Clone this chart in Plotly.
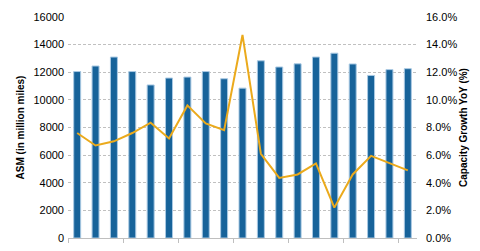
import plotly.graph_objects as go

asm = [12050, 12450, 13100, 12050, 11080, 11580, 11650, 12050, 11530, 10850,
       12830, 12380, 12610, 13100, 13380, 12600, 11770, 12190, 12260]
growth = [7.6, 6.7, 7.0, 7.6, 8.35, 7.2, 9.6, 8.3, 7.8, 14.7,
          6.1, 4.35, 4.6, 5.4, 2.2, 4.6, 5.95, 5.4, 4.9]
growth_frac = [g / 100 for g in growth]
x = list(range(len(asm)))
boundaries = [i - 0.5 for i in range(0, len(asm) + 1, 3)]

fig = go.Figure()
fig.add_trace(go.Bar(x=x, y=asm, marker=dict(color="#17639a", line=dict(color="#a9c9e3", width=1)),
                     width=0.38, yaxis="y"))
fig.add_trace(go.Scatter(x=x, y=growth_frac, mode="lines", line=dict(color="#ebaa1c", width=2),
                         yaxis="y2"))

font = dict(family="Liberation Sans, Arial, sans-serif", size=11, color="#000000")
fig.update_layout(
    width=480, height=251, margin=dict(l=68, r=63, t=17, b=7),
    paper_bgcolor="white", plot_bgcolor="white", showlegend=False, font=font,
    xaxis=dict(range=[-0.5, len(asm) - 0.5], tickmode="array", tickvals=boundaries,
               showticklabels=False, ticks="outside", ticklen=4, tickcolor="#bfbfbf",
               showline=True, linecolor="#bfbfbf", linewidth=1, showgrid=False, zeroline=False),
    yaxis=dict(range=[0, 16000], dtick=2000, showgrid=True, gridcolor="#c0c0c0", griddash="3px,2px",
               zeroline=False, ticks="", tickformat="d", ticklabelstandoff=3,
               title=dict(text="<b>ASM (in million miles)</b>", font=dict(size=10), standoff=6)),
    yaxis2=dict(range=[0, 0.16], dtick=0.02, tickformat=".1%", overlaying="y", side="right",
                showgrid=False, zeroline=False, ticklabelstandoff=8,
                title=dict(text="<b>Capacity Growth YoY (%)</b>", font=dict(size=10), standoff=3)),
)
fig.write_html("out.html")
